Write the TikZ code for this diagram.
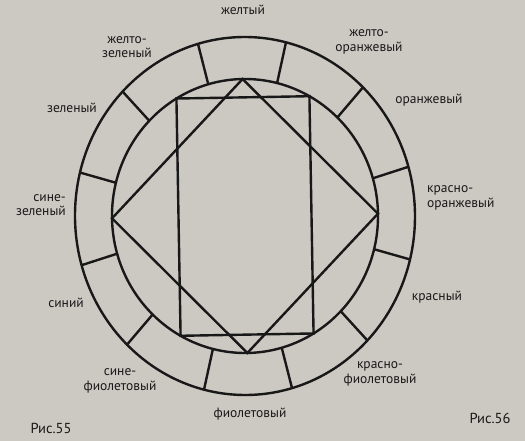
\documentclass[tikz,border=0pt]{standalone}
\usepackage{fontspec}
\setmainfont{PT Sans}
\usetikzlibrary{positioning}

\definecolor{paper}{RGB}{204,201,195}
\definecolor{ink}{RGB}{24,24,24}

\begin{document}
\begin{tikzpicture}[
    x=1pt, y=1pt,
    ring/.style={draw=ink, line width=2.4pt},
    colorname/.style={text=ink, font=\fontsize{13.5}{14.5}\selectfont, align=center, inner sep=1pt},
    fignum/.style={text=ink, font=\fontsize{14.5}{15}\selectfont, inner sep=1pt}
]
    % Background
    \fill [paper] (-245,-225) rectangle (280,216);
    \useasboundingbox (-245,-225) rectangle (280,216);

    \begin{scope}[rotate=1]
        % Rings
        \draw [ring] (0,0) ellipse [x radius=170, y radius=179];
        \draw [ring] (0,0) ellipse [x radius=133, y radius=137];

        % Dividers
        \foreach \a in {15,45,...,345}
            \draw [ring] (\a:133 and 137) -- (\a:170 and 179);

        % Corners
        \coordinate (sqtop) at (90:133 and 137);
        \coordinate (sqright) at (0:133 and 137);
        \coordinate (sqbottom) at (270:133 and 137);
        \coordinate (sqleft) at (180:133 and 137);
        \coordinate (rectne) at (60:133 and 137);
        \coordinate (rectnw) at (120:133 and 137);
        \coordinate (rectsw) at (240:133 and 137);
        \coordinate (rectse) at (300:133 and 137);

        % Square and rectangle
        \draw [ring, line join=miter] (sqtop) -- (sqright) -- (sqbottom) -- (sqleft) -- cycle;
        \draw [ring, line join=miter] (rectne) -- (rectnw) -- (rectsw) -- (rectse) -- cycle;
    \end{scope}

    % Labels
    \node [colorname] (yellow) at (-2,206) {желтый};
    \node [colorname] (yellowgreen) at (-118,169) {желто-\\зеленый};
    \node [colorname] (yelloworange) at (124,174) {желто-\\оранжевый};
    \node [colorname] (orange) at (184,116) {оранжевый};
    \node [colorname, anchor=west, align=left] (redorange) at (181,18) {красно-\\оранжевый};
    \node [colorname] (red) at (192,-81) {красный};
    \node [colorname] (redviolet) at (135,-158) {красно-\\фиолетовый};
    \node [colorname] (violet) at (5,-198) {фиолетовый};
    \node [colorname] (blueviolet) at (-125,-165) {сине-\\фиолетовый};
    \node [colorname] (blue) at (-179,-87) {синий};
    \node [colorname, anchor=east, align=right] (bluegreen) at (-178,11) {сине-\\зеленый};
    \node [colorname] (green) at (-173,108) {зеленый};

    % Figure numbers
    \node [fignum] (fig55) at (-194,-212) {Рис.55};
    \node [fignum] (fig56) at (245,-202) {Рис.56};
\end{tikzpicture}
\end{document}
